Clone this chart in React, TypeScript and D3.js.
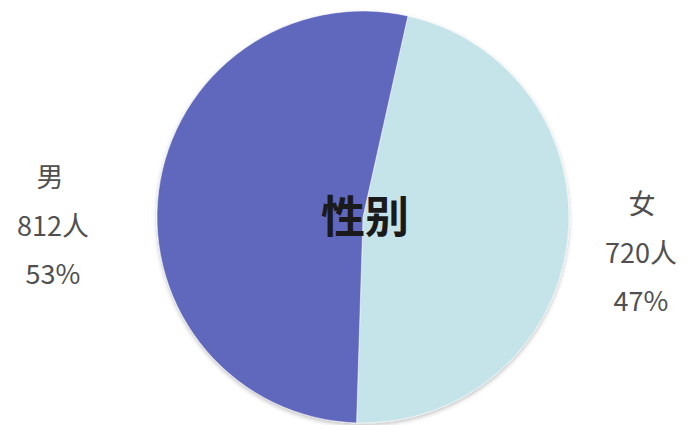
import React from "react";
import * as d3 from "d3";

const categories = ["女", "男"];
const counts = [720, 812];
const percentLabels = ["47%", "53%"];
const colors = ["#C5E4EA", "#6068BE"];
const title = "性别";

const W = 689;
const H = 425;

export default function App() {
  const cx = 363;
  const cy = 217;
  const r = 206;
  const start = (12.6 * Math.PI) / 180;
  const pie = d3
    .pie<number>()
    .sort(null)
    .value((d) => d)
    .startAngle(start)
    .endAngle(start + 2 * Math.PI);
  const arcs = pie(counts);
  const arc = d3.arc<d3.PieArcDatum<number>>().innerRadius(0).outerRadius(r);

  const labelPos = [
    { x: 642, y: 205 },
    { x: 50, y: 178 },
  ];
  const font = "'Noto Sans CJK TC', 'Noto Sans', sans-serif";

  return (
    <svg
      width={W}
      height={H}
      style={{ position: "absolute", left: 0, top: 0, background: "#fff" }}
    >
      <defs>
        <filter id="sh" x="-10%" y="-10%" width="120%" height="120%">
          <feDropShadow dx="0" dy="2" stdDeviation="2" floodColor="#000" floodOpacity="0.25" />
        </filter>
      </defs>
      <g transform={`translate(${cx},${cy})`} filter="url(#sh)">
        {arcs.map((a, i) => (
          <path key={i} d={arc(a) || ""} fill={colors[i]} stroke="#fff" strokeWidth={0.5} />
        ))}
      </g>
      <text
        x={cx + 2}
        y={cy + 16}
        textAnchor="middle"
        fontFamily="'Noto Sans CJK SC', sans-serif"
        fontWeight={700}
        fontSize={44}
        fill="#1a1a1a"
      >
        {title}
      </text>
      {categories.map((c, i) => (
        <g key={c} fontFamily={font} fontSize={27} fill="#505050" textAnchor="middle">
          <text x={labelPos[i].x} y={labelPos[i].y + 9}>{c}</text>
          <text x={labelPos[i].x + (i === 1 ? 3 : -1)} y={labelPos[i].y + 58}>{`${counts[i]}人`}</text>
          <text x={labelPos[i].x + (i === 1 ? 3 : -1)} y={labelPos[i].y + 106}>{percentLabels[i]}</text>
        </g>
      ))}
    </svg>
  );
}
